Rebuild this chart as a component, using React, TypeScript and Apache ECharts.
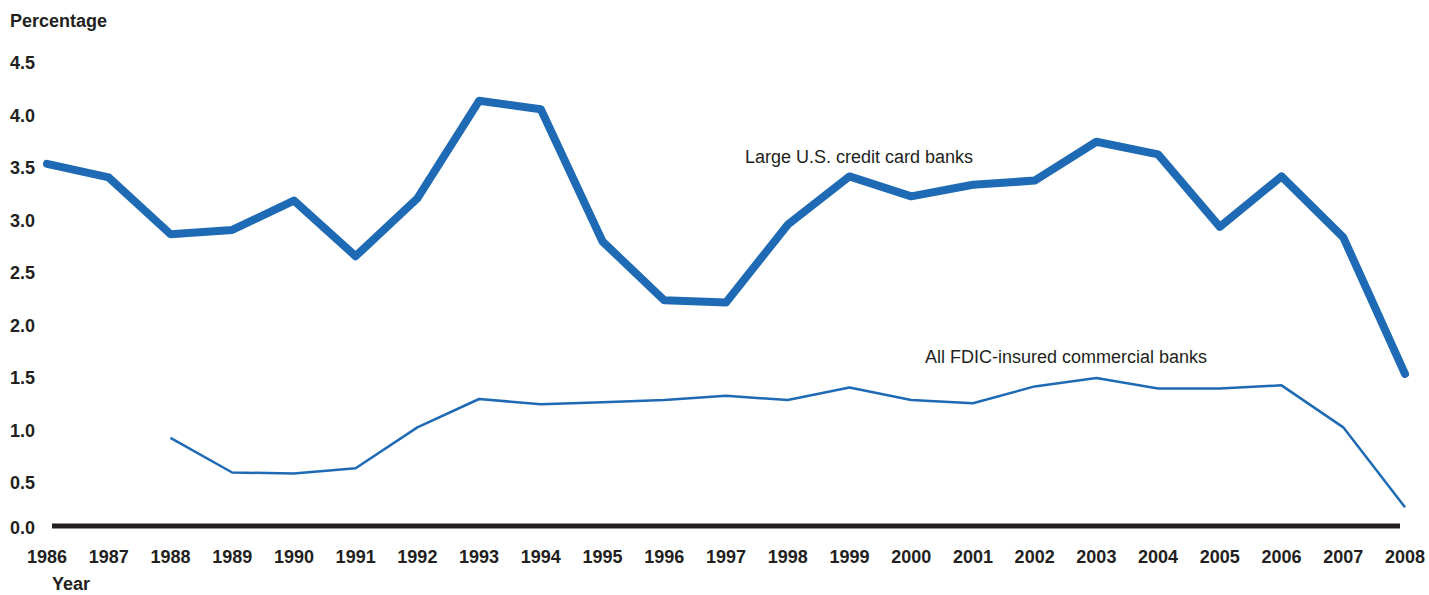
import React, { useEffect, useRef } from "react";
import * as echarts from "echarts";

const years = ["1986","1987","1988","1989","1990","1991","1992","1993","1994","1995","1996","1997","1998","1999","2000","2001","2002","2003","2004","2005","2006","2007","2008"];
const creditCardBanks = [3.54,3.41,2.87,2.91,3.19,2.66,3.21,4.14,4.06,2.80,2.24,2.22,2.96,3.42,3.23,3.34,3.38,3.75,3.63,2.94,3.42,2.84,1.54];
const fdicBanks: (number | null)[] = [null,null,0.93,0.60,0.59,0.64,1.03,1.30,1.25,1.27,1.29,1.33,1.29,1.41,1.29,1.26,1.42,1.50,1.40,1.40,1.43,1.03,0.27];
const yTicks = [0, 0.5, 1, 1.5, 2, 2.5, 3, 3.5, 4, 4.5];

const FONT = "'Liberation Sans', Arial, Helvetica, sans-serif";
const TXT = "#231f20";
const BLUE = "#1f6ab4";

export default function App() {
  const ref = useRef<HTMLDivElement>(null);
  useEffect(() => {
    document.body.style.margin = "0";
    if (!ref.current) return;
    const chart = echarts.init(ref.current, null, { renderer: "svg" });
    chart.setOption({
      animation: false,
      textStyle: { fontFamily: FONT },
      grid: { left: 47, right: 24, top: 63, bottom: 59.5 },
      xAxis: {
        type: "category",
        data: years,
        boundaryGap: false,
        axisLine: { show: false },
        axisTick: { show: false },
        axisLabel: { color: TXT, fontWeight: "bold", fontSize: 18, fontFamily: FONT, margin: 12, interval: 0 },
      },
      yAxis: {
        type: "value",
        min: 0,
        max: 4.5,
        interval: 0.5,
        splitLine: { show: false },
        axisLine: { show: false },
        axisTick: { show: false },
        axisLabel: {
          color: TXT,
          fontWeight: "bold",
          fontSize: 18,
          fontFamily: FONT,
          align: "left",
          margin: 37,
          formatter: (v: number) => (v === 0 ? "{z|" + v.toFixed(1) + "}" : yTicks.includes(v) ? v.toFixed(1) : ""),
          rich: { z: { color: TXT, fontWeight: "bold", fontSize: 18, fontFamily: FONT, padding: [0, 0, 15, 0] } },
        },
      },
      graphic: [
        { type: "rect", shape: { x: 52, y: 523.5, width: 1348, height: 5 }, style: { fill: TXT }, z: 1 },
        { type: "text", x: 10, y: 21, style: { text: "Percentage", font: "bold 18px " + FONT, fill: TXT, verticalAlign: "middle" } },
        { type: "text", x: 52, y: 584, style: { text: "Year", font: "bold 18px " + FONT, fill: TXT, verticalAlign: "middle" } },
        { type: "text", x: 745, y: 157, style: { text: "Large U.S. credit card banks", font: "18px " + FONT, fill: TXT, verticalAlign: "middle" } },
        { type: "text", x: 925, y: 357, style: { text: "All FDIC-insured commercial banks", font: "18px " + FONT, fill: TXT, verticalAlign: "middle" } },
      ],
      series: [
        {
          name: "Large U.S. credit card banks",
          type: "line",
          data: creditCardBanks,
          symbol: "none",
          lineStyle: { color: BLUE, width: 8, cap: "round", join: "round" },
          z: 3,
        },
        {
          name: "All FDIC-insured commercial banks",
          type: "line",
          data: fdicBanks,
          symbol: "none",
          lineStyle: { color: BLUE, width: 2.5 },
          z: 3,
        },
      ],
    });
    return () => chart.dispose();
  }, []);
  return <div ref={ref} style={{ width: 1429, height: 595 }} />;
}
